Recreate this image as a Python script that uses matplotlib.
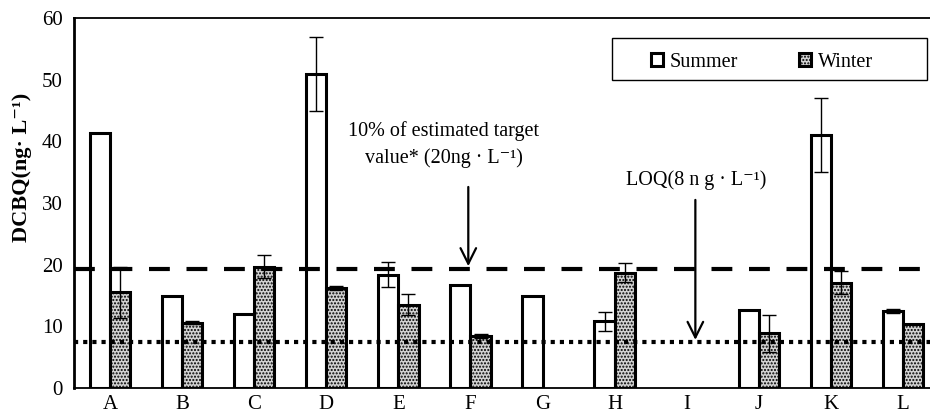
import numpy as np
import matplotlib.pyplot as plt
from matplotlib.patches import Rectangle

plt.rcParams['font.family'] = ['Liberation Serif', 'DejaVu Serif']
plt.rcParams['hatch.color'] = '#808080'
plt.rcParams['hatch.linewidth'] = 1.0

sites = ['A', 'B', 'C', 'D', 'E', 'F', 'G', 'H', 'I', 'J', 'K', 'L']
summer = [41.4, 14.9, 12.0, 50.9, 18.4, 16.7, 14.9, 10.8, 0.0, 12.6, 41.1, 12.5]
summer_err = [0.0, 0.0, 0.0, 6.0, 2.1, 0.0, 0.0, 1.6, 0.0, 0.0, 6.0, 0.3]
winter = [15.5, 10.6, 19.7, 16.2, 13.5, 8.4, 0.0, 18.7, 0.0, 8.9, 17.1, 10.4]
winter_err = [4.2, 0.3, 1.8, 0.3, 1.7, 0.3, 0.0, 1.5, 0.0, 3.0, 1.8, 0.0]
target_line = 19.25
loq_line = 7.4

fig = plt.figure(figsize=(9.3, 4.16), dpi=100)
ax = fig.add_axes([74 / 930, 28 / 416, 865 / 930, 370 / 416])

x = np.arange(len(sites))
w = 0.28
ekw = dict(elinewidth=1.0, capthick=1.0)
for i in range(len(sites)):
    if summer[i] > 0:
        ax.bar(x[i] - w / 2, summer[i], w, color='white', edgecolor='black',
               linewidth=2.2, zorder=2,
               label='Summer' if i == 0 else None)
        if summer_err[i] > 0:
            ax.errorbar(x[i] - w / 2, summer[i], yerr=summer_err[i], fmt='none',
                        ecolor='black', capsize=5, zorder=4, **ekw)
    if winter[i] > 0:
        ax.bar(x[i] + w / 2, winter[i], w, color='#d2d2d2', edgecolor='black',
               linewidth=2.2, hatch='.....', zorder=2,
               label='Winter' if i == 0 else None)
        if winter_err[i] > 0:
            ax.errorbar(x[i] + w / 2, winter[i], yerr=winter_err[i], fmt='none',
                        ecolor='black', capsize=5, zorder=4, **ekw)

ax.axhline(target_line, color='black', linewidth=3.0, linestyle=(0, (5, 4)), zorder=3)
ax.axhline(loq_line, color='black', linewidth=3.0, linestyle=(0, (1, 1.2)), zorder=3)

ax.set_xlim(-0.5, 11.5)
ax.set_ylim(0, 60)
ax.set_xticks(x)
ax.set_xticklabels(sites)
ax.set_yticks(np.arange(0, 61, 10))
ax.tick_params(axis='both', length=0, labelsize=15)
ax.tick_params(axis='y', pad=8)
ax.tick_params(axis='x', pad=5)
for s in ax.spines.values():
    s.set_linewidth(1.3)
ax.spines['left'].set_linewidth(2.0)

ax.set_ylabel('DCBQ(ng\u00b7 L\u207b\u00b9)', fontsize=16, fontweight='bold')
ax.yaxis.set_label_coords(-0.048, 0.595)

ax.text(4.63, 41.6, '10% of estimated target', ha='center', va='center', fontsize=14.5)
ax.text(4.63, 37.3, 'value* (20ng \u00b7 L\u207b\u00b9)', ha='center', va='center', fontsize=14.5)
ax.annotate('', xy=(4.97, target_line + 0.5), xytext=(4.97, 32.6),
            arrowprops=dict(arrowstyle='->', color='black', lw=1.6,
                            mutation_scale=28, shrinkA=0, shrinkB=0))
ax.text(8.13, 33.7, 'LOQ(8 n g \u00b7 L\u207b\u00b9)', ha='center', va='center', fontsize=14.5)
ax.annotate('', xy=(8.12, loq_line + 0.4), xytext=(8.12, 30.5),
            arrowprops=dict(arrowstyle='->', color='black', lw=1.6,
                            mutation_scale=28, shrinkA=0, shrinkB=0))

# legend box
ax.add_patch(Rectangle((0.622, 0.832), 0.364, 0.114, transform=ax.transAxes,
                       facecolor='white', edgecolor='black', linewidth=1.0,
                       zorder=5))
leg = ax.legend(loc='center left', bbox_to_anchor=(0.667, 0.881), ncol=2,
                fontsize=14.5, frameon=False, borderpad=0, borderaxespad=0,
                handlelength=0.6, handleheight=0.6, columnspacing=3.0,
                handletextpad=0.35)
leg.set_zorder(6)

fig.savefig('out.png', dpi=100)
